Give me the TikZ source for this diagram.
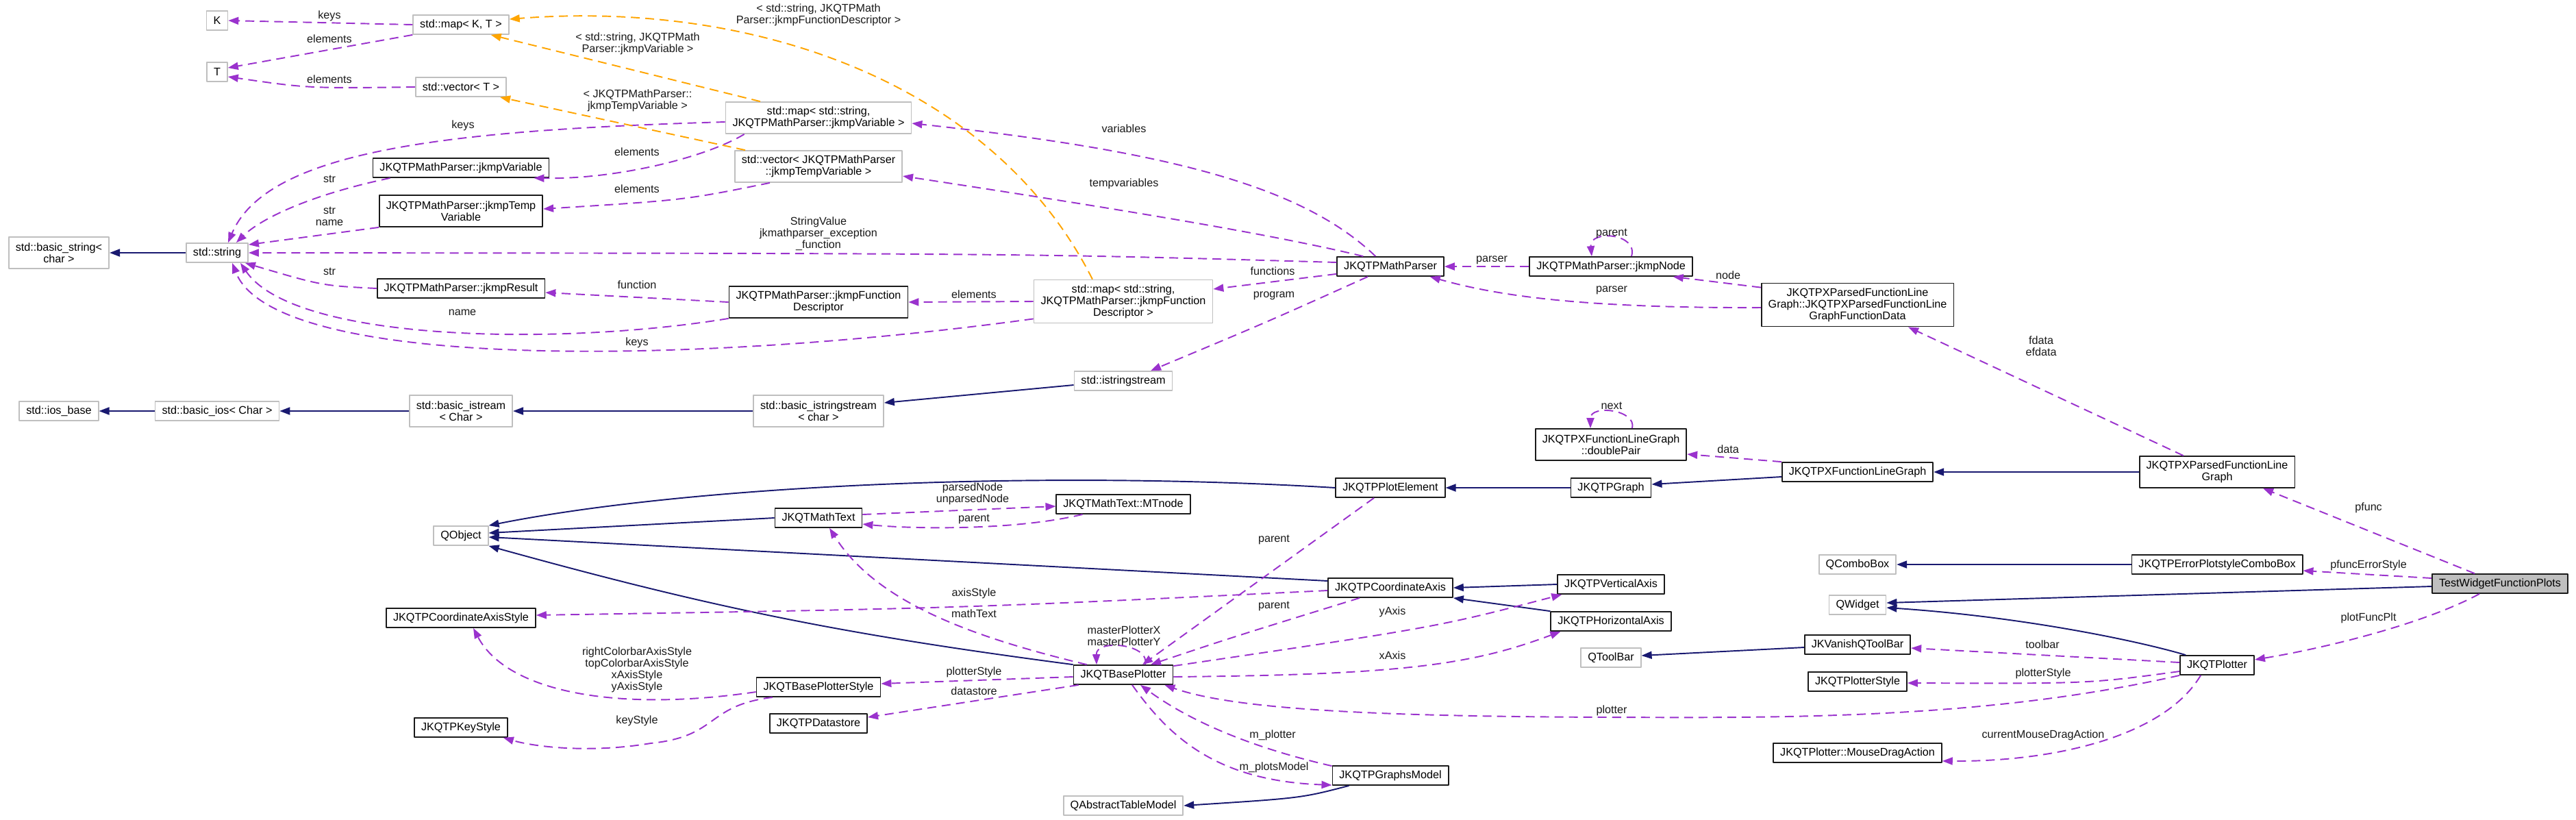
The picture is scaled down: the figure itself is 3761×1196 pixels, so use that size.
\documentclass[tikz,border=0pt]{standalone}
\usepackage{fontspec}
\setmainfont{Liberation Sans}
\usepackage{xcolor}
\usepackage{tikz}
\usetikzlibrary{arrows.meta}
\definecolor{ink}{HTML}{1A1A1A}
\definecolor{basecol}{HTML}{191970}
\definecolor{usecol}{HTML}{9A32CD}
\definecolor{tmplcol}{HTML}{FFA500}
\definecolor{boxgray}{HTML}{BFBFBF}
\newcommand{\doxyfont}{\fontsize{4.6pt}{4.85pt}\selectfont}
\tikzset{
  doxy diagram/.style={
    font=\doxyfont,
    x=0.01cm,
    y=-0.01cm,
    >={Triangle[length=0.15cm,width=0.11cm]},
    line join=round
  },
  classbox/.style={
    draw=ink,
    line width=0.5pt,
    fill=white,
    align=center,
    inner xsep=0.1cm,
    inner ysep=0pt,
    minimum height=0.28cm
  },
  extbox/.style={
    classbox,
    draw=boxgray
  },
  focusbox/.style={
    classbox,
    fill=boxgray
  },
  tallbox/.style={minimum height=0.46cm},
  tallerbox/.style={minimum height=0.63cm},
  basearrow/.style={
    ->,
    draw=basecol,
    line width=0.55pt
  },
  usearrow/.style={
    ->,
    draw=usecol,
    line width=0.55pt,
    dash pattern=on 0.13cm off 0.08cm
  },
  tmplarrow/.style={
    ->,
    draw=tmplcol,
    line width=0.55pt,
    dash pattern=on 0.13cm off 0.08cm
  },
  edgelabel/.style={
    inner sep=0pt,
    align=center,
    text=ink
  }
}

\begin{document}
\begin{tikzpicture}[doxy diagram]
\fill[white] (0,0) rectangle (3761,1196);
\useasboundingbox (0,0) rectangle (3761,1196);

\node[extbox] (nK) at (317,30) {K};
\node[extbox] (nT) at (317,105) {T};
\node[extbox] (mapKT) at (673,36) {std::map< K, T >};
\node[extbox] (vecT) at (673,127) {std::vector< T >};
\node[classbox] (jvar) at (673,245) {JKQTPMathParser::jkmpVariable};
\node[classbox, tallbox] (jtemp) at (673,308) {JKQTPMathParser::jkmpTemp\\Variable};
\node[extbox, tallbox] (bstring) at (86,369) {std::basic\_string<\\char >};
\node[extbox] (sstring) at (317,369) {std::string};
\node[classbox] (jres) at (673,421) {JKQTPMathParser::jkmpResult};
\node[extbox, tallbox] (mapvar) at (1195,172) {std::map< std::string,\\JKQTPMathParser::jkmpVariable >};
\node[extbox, tallbox] (vectemp) at (1195,243) {std::vector< JKQTPMathParser\\::jkmpTempVariable >};
\node[classbox, tallbox] (jfd) at (1195,441) {JKQTPMathParser::jkmpFunction\\Descriptor};
\node[extbox, tallerbox] (mapfd) at (1640,440) {std::map< std::string,\\JKQTPMathParser::jkmpFunction\\Descriptor >};
\node[extbox] (istr) at (1640,556) {std::istringstream};
\node[extbox, tallbox] (bistrs) at (1195,600) {std::basic\_istringstream\\< char >};
\node[extbox, tallbox] (bistream) at (673,600) {std::basic\_istream\\< Char >};
\node[extbox] (bios) at (317,600) {std::basic\_ios< Char >};
\node[extbox] (iosbase) at (86,600) {std::ios\_base};
\node[extbox] (qobject) at (673,782) {QObject};
\node[classbox] (mparser) at (2030,389) {JKQTPMathParser};
\node[classbox] (jnode) at (2352,389) {JKQTPMathParser::jkmpNode};
\node[classbox, tallerbox] (pfdata) at (2712,445) {JKQTPXParsedFunctionLine\\Graph::JKQTPXParsedFunctionLine\\GraphFunctionData};
\node[classbox, tallbox] (pflg) at (3237,689) {JKQTPXParsedFunctionLine\\Graph};
\node[classbox] (flg) at (2712,689) {JKQTPXFunctionLineGraph};
\node[classbox, tallbox] (dpair) at (2352,649) {JKQTPXFunctionLineGraph\\::doublePair};
\node[classbox] (graph) at (2352,712) {JKQTPGraph};
\node[classbox] (plotel) at (2030,712) {JKQTPPlotElement};
\node[classbox] (mtext) at (1195,756) {JKQTMathText};
\node[classbox] (mtnode) at (1640,736) {JKQTMathText::MTnode};
\node[classbox] (caxstyle) at (673,902) {JKQTPCoordinateAxisStyle};
\node[classbox] (keystyle) at (673,1062) {JKQTPKeyStyle};
\node[classbox] (bpstyle) at (1195,1003) {JKQTBasePlotterStyle};
\node[classbox] (dstore) at (1195,1056) {JKQTPDatastore};
\node[classbox] (bplot) at (1640,985) {JKQTBasePlotter};
\node[extbox] (qatm) at (1640,1176) {QAbstractTableModel};
\node[classbox] (caxis) at (2030,858) {JKQTPCoordinateAxis};
\node[classbox] (vaxis) at (2352,853) {JKQTPVerticalAxis};
\node[classbox] (haxis) at (2352,907) {JKQTPHorizontalAxis};
\node[extbox] (qtoolbar) at (2352,960) {QToolBar};
\node[classbox] (vqtb) at (2712,941) {JKVanishQToolBar};
\node[classbox] (pstyle) at (2712,995) {JKQTPlotterStyle};
\node[classbox] (mda) at (2712,1099) {JKQTPlotter::MouseDragAction};
\node[classbox] (gmodel) at (2030,1132) {JKQTPGraphsModel};
\node[extbox] (qcombo) at (2712,824) {QComboBox};
\node[extbox] (qwidget) at (2712,883) {QWidget};
\node[classbox] (epcb) at (3237,824) {JKQTPErrorPlotstyleComboBox};
\node[focusbox] (testw) at (3650,852) {TestWidgetFunctionPlots};
\node[classbox] (plotter) at (3237,971) {JKQTPlotter};

\draw[basearrow] (sstring) -- (bstring);
\draw[basearrow] (bios) -- (iosbase);
\draw[basearrow] (bistream) -- (bios);
\draw[basearrow] (bistrs) -- (bistream);
\draw[basearrow] ([yshift=-0.06cm]istr.west) -- ([yshift=0.12cm]bistrs.east);
\draw[basearrow] (plotel.west) .. controls (1500,685) and (1000,710) .. (qobject.north east);
\draw[basearrow] (mtext.west) -- ([yshift=0.04cm]qobject.east);
\draw[basearrow] ([yshift=0.1cm]caxis.west) -- ([yshift=-0.02cm]qobject.east);
\draw[basearrow] (bplot.north west) to[bend left=4] (qobject.south east);
\draw[basearrow] (graph) -- (plotel);
\draw[basearrow] ([yshift=-0.07cm]flg.west) -- ([yshift=0.05cm]graph.east);
\draw[basearrow] (pflg) -- (flg);
\draw[basearrow] (vaxis.west) -- (caxis.east);
\draw[basearrow] (haxis.north west) -- (caxis.south east);
\draw[basearrow] ([yshift=-0.04cm]vqtb.west) -- ([yshift=0.03cm]qtoolbar.east);
\draw[basearrow] (epcb) -- (qcombo);
\draw[basearrow] ([yshift=-0.04cm]testw.west) -- ([yshift=0.03cm]qwidget.east);
\draw[basearrow] ([xshift=0.09cm]plotter.north west) .. controls (3120,935) and (2950,900) .. ([yshift=-0.04cm]qwidget.east);
\draw[basearrow] ([xshift=0.25cm]gmodel.south west) .. controls (1900,1165) .. (qatm.east);

\draw[usearrow] (mapKT.west) -- (nK.east);
\draw[usearrow] (mapKT.south west) -- ([yshift=0.06cm]nT.east);
\draw[usearrow] (vecT.west) .. controls (450,129) .. ([yshift=-0.07cm]nT.east);
\draw[usearrow] ([yshift=-0.06cm]mapvar.west) .. controls (650,190) and (390,220) .. ([xshift=0.16cm]sstring.north);
\draw[usearrow] ([xshift=0.28cm]mapvar.south west) .. controls (1030,230) and (900,262) .. ([xshift=-0.23cm]jvar.south east);
\draw[usearrow] ([xshift=0.52cm]vectemp.south west) .. controls (1000,292) .. ([yshift=0.03cm]jtemp.east);
\draw[usearrow] ([xshift=0.26cm]jvar.south west) .. controls (450,285) and (380,320) .. ([xshift=0.28cm]sstring.north);
\draw[usearrow] (jtemp.south west) -- ([yshift=-0.03cm]sstring.north east);
\draw[usearrow] ([yshift=0.06cm]mparser.west) .. controls (1500,370) .. (sstring.east);
\draw[usearrow] (jres.west) .. controls (470,417) .. ([xshift=-0.05cm]sstring.south east);
\draw[usearrow] (jfd.south west) .. controls (820,505) and (430,500) .. ([xshift=0.34cm]sstring.south);
\draw[usearrow] ([yshift=0.07cm]mapfd.south west) .. controls (1000,535) and (400,540) .. ([xshift=0.22cm]sstring.south);
\draw[usearrow] (jfd.west) -- ([yshift=-0.06cm]jres.east);
\draw[usearrow] (mapfd.west) -- (jfd.east);
\draw[usearrow] ([xshift=0.57cm]mparser.north west) .. controls (1900,270) and (1700,220) .. ([yshift=-0.08cm]mapvar.east);
\draw[usearrow] ([xshift=0.39cm]mparser.north west) .. controls (1850,340) and (1600,300) .. ([yshift=-0.14cm]vectemp.east);
\draw[usearrow] ([yshift=0.04cm]mparser.south west) -- ([yshift=0.18cm]mapfd.east);
\draw[usearrow] ([xshift=-0.33cm]mparser.south) .. controls (1850,470) .. ([xshift=0.4cm]istr.north);
\draw[usearrow] (jnode) -- (mparser);
\draw[usearrow] ([xshift=0.30cm]jnode.north) .. controls (2392,340) and (2320,335) .. ([xshift=-0.28cm]jnode.north);
\draw[usearrow] ([yshift=-0.07cm]pfdata.north west) -- ([xshift=-0.29cm]jnode.south east);
\draw[usearrow] ([yshift=-0.04cm]pfdata.west) .. controls (2300,450) and (2180,430) .. ([xshift=-0.21cm]mparser.south east);
\draw[usearrow] ([xshift=0.65cm]pflg.north west) -- ([xshift=0.74cm]pfdata.south);
\draw[usearrow] ([xshift=-0.37cm]testw.north) -- ([xshift=0.67cm]pflg.south);
\draw[usearrow] ([yshift=0.08cm]testw.west) -- ([yshift=-0.09cm]epcb.east);
\draw[usearrow] ([xshift=-0.3cm]testw.south) .. controls (3540,910) and (3400,945) .. ([yshift=0.08cm]plotter.east);
\draw[usearrow] (flg.north west) -- ([yshift=-0.14cm]dpair.east);
\draw[usearrow] ([xshift=0.31cm]dpair.north) .. controls (2390,598) and (2322,590) .. ([xshift=-0.3cm]dpair.north);
\draw[usearrow] ([yshift=0.05cm]mtext.east) -- ([yshift=-0.03cm]mtnode.west);
\draw[usearrow] ([xshift=0.39cm]mtnode.south west) .. controls (1480,775) and (1330,772) .. ([yshift=-0.09cm]mtext.east);
\draw[usearrow] ([yshift=-0.04cm]caxis.west) .. controls (1400,888) .. ([yshift=0.04cm]caxstyle.east);
\draw[usearrow] ([xshift=0.2cm]bplot.north west) .. controls (1420,930) and (1280,880) .. ([xshift=0.16cm]mtext.south);
\draw[usearrow] ([xshift=0.32cm]bplot.north) .. controls (1680,940) and (1600,932) .. ([xshift=-0.39cm]bplot.north);
\draw[usearrow] ([xshift=-0.24cm]plotel.south) -- ([xshift=0.28cm]bplot.north);
\draw[usearrow] ([xshift=-0.45cm]caxis.south) .. controls (1800,930) .. ([xshift=0.4cm]bplot.north);
\draw[usearrow] ([yshift=-0.03cm]bplot.west) -- ([yshift=0.05cm]bpstyle.east);
\draw[usearrow] ([xshift=0.08cm]bplot.south west) -- ([yshift=0.09cm]dstore.east);
\draw[usearrow] ([yshift=-0.07cm]bpstyle.west) .. controls (900,1040) and (740,1010) .. ([xshift=0.18cm]caxstyle.south);
\draw[usearrow] ([xshift=0.24cm]bpstyle.south west) .. controls (1030,1030) and (1050,1075) .. (950,1085) .. controls (860,1100) and (780,1090) .. ([xshift=-0.07cm]keystyle.south east);
\draw[usearrow] ([yshift=-0.02cm]bplot.north east) .. controls (2100,915) .. ([xshift=0.07cm]vaxis.south west);
\draw[usearrow] ([yshift=-0.03cm]bplot.east) .. controls (2050,985) and (2150,970) .. ([xshift=0.15cm]haxis.south west);
\draw[usearrow] ([yshift=0.04cm]plotter.west) -- ([yshift=-0.05cm]vqtb.east);
\draw[usearrow] ([yshift=-0.09cm]plotter.west) .. controls (3050,998) .. ([yshift=-0.02cm]pstyle.east);
\draw[usearrow] (plotter.south west) .. controls (2900,1050) and (2600,1048) .. (2353,1047) .. controls (2000,1046) and (1800,1035) .. ([xshift=-0.13cm]bplot.south east);
\draw[usearrow] ([xshift=-0.24cm]plotter.south) .. controls (3160,1075) and (3000,1112) .. ([yshift=0.03cm]mda.south east);
\draw[usearrow] ([yshift=-0.01cm]gmodel.north west) .. controls (1800,1085) and (1720,1040) .. ([xshift=0.25cm]bplot.south);
\draw[usearrow] ([xshift=0.13cm]bplot.south) .. controls (1710,1080) and (1780,1140) .. ([yshift=-0.14cm]gmodel.west);

\draw[tmplarrow] ([xshift=-0.85cm]mapvar.north) -- ([xshift=-0.27cm]mapKT.south east);
\draw[tmplarrow] ([xshift=-1.07cm]vectemp.north) -- ([xshift=-0.1cm]vecT.south east);
\draw[tmplarrow] ([xshift=-0.45cm]mapfd.north) .. controls (1450,120) and (1100,0) .. ([yshift=0.08cm]mapKT.east);

\node[edgelabel] (lKeysK) at (481,23) {keys};
\node[edgelabel] (lElemMapT) at (481,57) {elements};
\node[edgelabel] (lElemVecT) at (481,116) {elements};
\node[edgelabel] (lKeysVar) at (676,183) {keys};
\node[edgelabel] (lElemVar) at (930,222) {elements};
\node[edgelabel] (lElemTemp) at (930,276) {elements};
\node[edgelabel] (lStrVar) at (481,261) {str};
\node[edgelabel] (lStrTemp) at (481,316) {str\\name};
\node[edgelabel] (lStringValue) at (1195,341) {StringValue\\jkmathparser\_exception\\\_function};
\node[edgelabel] (lStrRes) at (481,396) {str};
\node[edgelabel] (lName) at (675,456) {name};
\node[edgelabel] (lKeysFd) at (930,500) {keys};
\node[edgelabel] (lFunction) at (930,416) {function};
\node[edgelabel] (lElemFd) at (1422,430) {elements};
\node[edgelabel] (lVariables) at (1641,188) {variables};
\node[edgelabel] (lTempVariables) at (1641,268) {tempvariables};
\node[edgelabel] (lFunctions) at (1858,396) {functions};
\node[edgelabel] (lProgram) at (1860,432) {program};
\node[edgelabel] (lParserNode) at (2178,380) {parser};
\node[edgelabel] (lParentNode) at (2353,341) {parent};
\node[edgelabel] (lNode) at (2523,402) {node};
\node[edgelabel] (lParserData) at (2353,424) {parser};
\node[edgelabel] (lFdata) at (2980,505) {fdata\\efdata};
\node[edgelabel] (lPfunc) at (3458,741) {pfunc};
\node[edgelabel] (lPfuncErr) at (3458,825) {pfuncErrorStyle};
\node[edgelabel] (lPlotFunc) at (3458,902) {plotFuncPlt};
\node[edgelabel] (lData) at (2523,656) {data};
\node[edgelabel] (lNext) at (2353,592) {next};
\node[edgelabel] (lParsedNode) at (1420,721) {parsedNode\\unparsedNode};
\node[edgelabel] (lParentText) at (1422,758) {parent};
\node[edgelabel] (lAxisStyle) at (1422,866) {axisStyle};
\node[edgelabel] (lMathText) at (1422,896) {mathText};
\node[edgelabel] (lMaster) at (1641,928) {masterPlotterX\\masterPlotterY};
\node[edgelabel] (lParentElem) at (1860,788) {parent};
\node[edgelabel] (lParentAxis) at (1860,885) {parent};
\node[edgelabel] (lPlotterStyleBase) at (1422,981) {plotterStyle};
\node[edgelabel] (lDatastore) at (1422,1009) {datastore};
\node[edgelabel] (lAxisStyles) at (930,978) {rightColorbarAxisStyle\\topColorbarAxisStyle\\xAxisStyle\\yAxisStyle};
\node[edgelabel] (lKeyStyle) at (930,1052) {keyStyle};
\node[edgelabel] (lYAxis) at (2033,893) {yAxis};
\node[edgelabel] (lXAxis) at (2033,957) {xAxis};
\node[edgelabel] (lToolbar) at (2982,941) {toolbar};
\node[edgelabel] (lPlotterStyle) at (2983,983) {plotterStyle};
\node[edgelabel] (lPlotter) at (2353,1037) {plotter};
\node[edgelabel] (lDrag) at (2983,1073) {currentMouseDragAction};
\node[edgelabel] (lMPlotter) at (1858,1073) {m\_plotter};
\node[edgelabel] (lMPlotsModel) at (1860,1120) {m\_plotsModel};
\node[edgelabel] (lTmplVar) at (931,64) {< std::string, JKQTPMath\\Parser::jkmpVariable >};
\node[edgelabel] (lTmplTemp) at (931,147) {< JKQTPMathParser::\\jkmpTempVariable >};
\node[edgelabel] (lTmplFd) at (1195,22) {< std::string, JKQTPMath\\Parser::jkmpFunctionDescriptor >};
\end{tikzpicture}
\end{document}
